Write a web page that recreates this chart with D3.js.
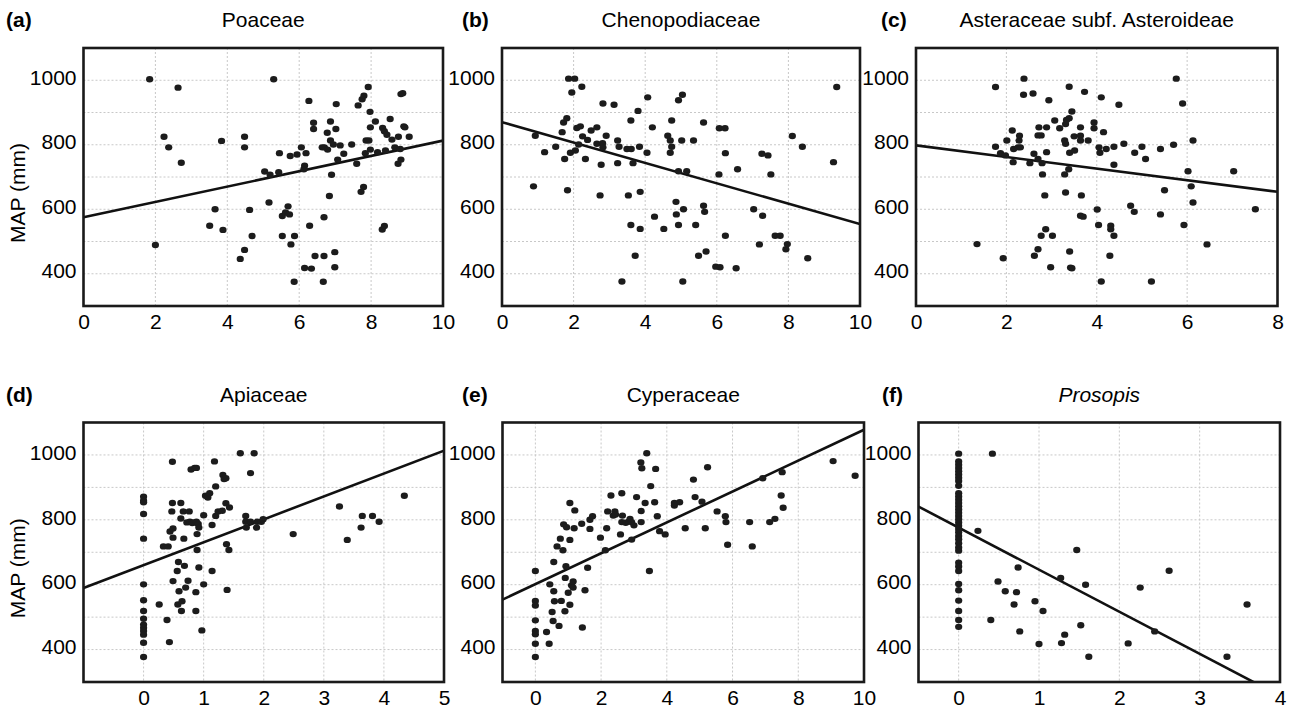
<!DOCTYPE html>
<html>
<head>
<meta charset="utf-8">
<script src="https://cdn.jsdelivr.net/npm/d3@7"></script>
<style>
  body { margin: 0; background: #fff; }
  svg { display: block; font-family: "Liberation Sans", Arial, sans-serif; }
</style>
</head>
<body>
<svg width="1293" height="708"></svg>
<script>
// pollen % vs mean annual precipitation
var poaceae = [[1.84,1003],[2.0,489],[2.24,825],[2.37,792],[2.63,977],[2.72,744],[3.84,812],[3.51,549],[3.66,600],[3.88,536],
  [4.48,825],[4.48,792],[4.62,598],[4.69,517],[4.48,474],[4.36,446],[5.29,1003],[5.04,717],[5.19,707],[5.16,621],
  [5.45,774],[5.43,715],[5.53,579],[5.53,517],[5.62,590],[5.69,609],[5.73,584],[5.77,491],[5.75,765],[5.94,770],
  [5.87,517],[5.86,375],[6.06,792],[6.15,735],[6.13,724],[6.19,774],[6.27,936],[6.29,549],[6.15,418],[6.34,416],
  [6.40,868],[6.40,849],[6.44,455],[6.64,792],[6.70,792],[6.79,785],[6.78,837],[6.87,872],[6.87,813],[6.95,801],
  [6.84,641],[6.90,707],[6.69,575],[6.69,455],[6.67,375],[7.02,849],[7.03,926],[7.07,754],[7.14,798],[7.24,772],
  [6.99,467],[6.99,420],[7.46,801],[7.60,741],[7.64,922],[7.75,941],[7.80,952],[7.92,979],[7.97,902],[7.98,854],
  [7.86,813],[7.94,813],[7.84,774],[7.98,785],[7.72,654],[7.79,669],[8.12,872],[8.18,777],[8.32,852],[8.37,842],
  [8.44,831],[8.40,782],[8.31,537],[8.37,548],[8.53,880],[8.58,816],[8.66,792],[8.76,825],[8.75,741],[8.83,754],
  [8.81,787],[8.83,957],[8.88,960],[8.91,857],[8.94,854],[9.06,825]];

var chenopodiaceae = [[0.88,671],[0.93,828],[1.19,777],[1.50,794],[1.68,839],[1.72,869],[1.81,882],[1.75,756],[1.83,659],[1.86,1005],
  [2.03,1005],[1.95,962],[2.23,980],[1.91,775],[2.05,782],[2.09,852],[2.19,857],[2.14,801],[2.25,826],[2.39,815],
  [2.33,756],[2.49,844],[2.65,854],[2.65,803],[2.81,805],[2.82,792],[2.82,928],[2.77,738],[2.74,643],[2.91,828],
  [3.13,924],[3.23,813],[3.23,743],[3.27,794],[3.35,376],[3.49,787],[3.61,787],[3.60,875],[3.66,743],[3.80,905],
  [3.84,794],[3.53,643],[3.86,654],[3.60,551],[3.86,539],[3.72,456],[4.07,947],[4.05,775],[4.20,854],[4.26,577],
  [4.52,539],[4.63,828],[4.70,813],[4.74,875],[4.74,794],[4.70,775],[4.86,623],[4.87,584],[4.93,938],[5.04,955],
  [5.02,813],[4.93,718],[5.16,718],[5.07,600],[4.93,551],[5.05,376],[5.35,813],[5.41,551],[5.49,456],[5.63,869],
  [5.63,611],[5.66,592],[5.70,469],[5.97,422],[6.09,420],[6.07,851],[6.23,851],[6.06,708],[6.24,774],[6.24,518],
  [6.54,417],[6.58,724],[7.03,600],[7.19,491],[7.26,772],[7.28,580],[7.43,767],[7.51,708],[7.63,518],[7.77,518],
  [7.93,476],[7.97,492],[8.11,827],[8.39,794],[8.54,448],[9.26,746],[9.35,979]];

var asteroideae = [[1.35,492],[1.76,979],[1.76,794],[1.87,774],[1.93,448],[1.98,767],[2.01,813],[2.13,844],[2.16,787],[2.15,746],
  [2.28,813],[2.29,828],[2.26,792],[2.31,792],[2.39,1005],[2.38,955],[2.52,743],[2.59,959],[2.61,772],[2.70,756],
  [2.72,854],[2.70,829],[2.77,829],[2.79,743],[2.80,708],[2.85,643],[2.87,538],[2.77,518],[2.70,476],[2.62,456],
  [2.89,777],[2.89,854],[2.94,938],[2.98,420],[3.02,518],[3.07,875],[3.18,851],[3.29,813],[3.31,803],[3.29,708],
  [3.31,652],[3.31,864],[3.33,877],[3.39,882],[3.39,980],[3.38,724],[3.40,775],[3.40,469],[3.42,419],[3.45,417],
  [3.45,903],[3.50,826],[3.51,782],[3.64,854],[3.64,828],[3.64,813],[3.66,643],[3.64,580],[3.70,577],[3.73,964],
  [3.81,813],[3.94,869],[3.94,851],[4.01,599],[4.04,551],[4.05,792],[4.07,775],[4.10,947],[4.10,376],[4.15,839],
  [4.21,787],[4.29,456],[4.31,549],[4.31,538],[4.38,518],[4.38,794],[4.38,738],[4.49,924],[4.60,803],[4.75,611],
  [4.83,592],[4.84,775],[5.00,794],[5.08,756],[5.21,376],[5.41,787],[5.41,584],[5.50,659],[5.70,800],[5.76,1005],
  [5.90,928],[5.93,551],[6.02,718],[6.09,671],[6.13,813],[6.13,621],[6.44,491],[7.03,718],[7.51,600]];

var apiaceae = [[0,871],[0,859],[0,854],[0,818],[0,742],[0,601],[0,552],[0,519],[0,495],[0,477],[0,467],[0,457],[0,446],[0,421],[0,377],
  [0.26,539],[0.33,718],[0.41,718],[0.39,491],[0.43,423],[0.44,764],[0.48,979],[0.48,852],[0.47,826],[0.49,773],
  [0.49,745],[0.49,611],[0.56,642],[0.57,539],[0.58,670],[0.59,580],[0.62,852],[0.62,804],[0.63,519],[0.64,549],
  [0.66,826],[0.67,742],[0.68,658],[0.70,591],[0.72,792],[0.74,612],[0.76,826],[0.77,794],[0.79,955],[0.81,790],
  [0.84,792],[0.85,960],[0.87,577],[0.88,960],[0.87,519],[0.88,794],[0.89,756],[0.91,787],[0.92,776],[0.89,707],
  [0.92,653],[0.97,459],[1.00,814],[1.00,601],[1.03,874],[1.07,869],[1.10,882],[1.14,784],[1.14,642],[1.18,980],
  [1.20,903],[1.20,812],[1.24,826],[1.31,828],[1.32,938],[1.34,926],[1.37,928],[1.37,851],[1.38,725],[1.39,584],
  [1.42,707],[1.43,838],[1.61,1005],[1.70,812],[1.70,794],[1.71,776],[1.78,944],[1.78,794],[1.84,1005],[1.88,776],
  [1.89,794],[1.96,794],[1.99,802],[2.49,756],[3.26,841],[3.39,738],[3.62,776],[3.64,812],[3.81,812],[3.92,794],[4.34,874]];

var cyperaceae = [[0,642],[0,550],[0,536],[0,490],[0,457],[0,447],[0,418],[0,377],
  [0.34,454],[0.42,418],[0.44,601],[0.51,516],[0.54,488],[0.56,580],[0.58,549],[0.56,670],[0.66,718],[0.72,473],
  [0.76,742],[0.79,550],[0.84,706],[0.86,786],[0.90,518],[0.91,621],[0.95,777],[0.93,657],[1.00,575],[1.05,852],
  [1.05,738],[1.05,538],[1.10,598],[1.15,610],[1.15,591],[1.18,774],[1.20,829],[1.41,788],[1.43,468],[1.51,583],
  [1.59,652],[1.66,772],[1.66,800],[1.74,811],[1.98,745],[2.13,706],[2.17,774],[2.20,826],[2.30,875],[2.37,813],
  [2.42,826],[2.44,816],[2.59,755],[2.63,882],[2.65,813],[2.63,793],[2.75,791],[2.85,795],[2.88,803],[2.93,739],
  [2.93,793],[3.00,783],[3.08,870],[3.21,977],[3.22,827],[3.22,793],[3.24,959],[3.34,852],[3.39,1005],[3.47,642],
  [3.51,904],[3.66,957],[3.63,854],[3.71,811],[3.78,765],[3.95,755],[4.23,844],[4.23,852],[4.39,854],[4.56,774],
  [4.81,924],[4.86,870],[5.07,856],[5.17,774],[5.24,962],[5.53,826],[5.78,811],[5.80,793],[5.85,723],[6.52,793],
  [6.60,718],[6.92,928],[7.13,793],[7.29,803],[7.48,875],[7.51,947],[7.54,837],[9.06,981],[9.73,936]];

var prosopis = [[0,1004],[0,980],[0,970],[0,960],[0,950],[0,940],[0,930],[0,920],[0,905],[0,882],[0,872],[0,862],
  [0,852],[0,842],[0,832],[0,822],[0,812],[0,802],[0,792],[0,782],[0,772],[0,762],[0,750],[0,740],[0,728],[0,715],
  [0,705],[0,668],[0,656],[0,642],[0,602],[0,583],[0,551],[0,519],[0,491],[0,470],
  [0.42,1004],[0.24,766],[0.74,653],[0.49,610],[0.58,580],[0.72,577],[0.69,539],[0.40,491],[0.76,456],[0.95,549],
  [1.05,519],[1.00,417],[1.27,621],[1.28,420],[1.32,446],[1.47,707],[1.52,475],[1.58,600],[1.62,378],[2.11,419],
  [2.26,591],[2.44,456],[2.62,643],[3.34,378],[3.59,539]];

// regression lines: [intercept, slope]
var poaceaeFit = [575, 23.8];
var chenoFit = [870, -31.6];
var asterFit = [798, -18];
var apiaceaeFit = [660.5, 70.5];
var cyperFit = [601.6, 47.6];
var prosopisFit = [776, -129.7];

var yTickLabels = [400, 600, 800, 1000];
var yGrid = [400, 500, 600, 700, 800, 900, 1000];

var panels = [
  {tag: "(a)", title: "Poaceae", pts: poaceae, fit: poaceaeFit, xd: [0, 10], xt: [0, 2, 4, 6, 8, 10], box: [83.5, 48, 443, 306], tagX: 6, ylab: true},
  {tag: "(b)", title: "Chenopodiaceae", pts: chenopodiaceae, fit: chenoFit, xd: [0, 10], xt: [0, 2, 4, 6, 8, 10], box: [502, 48, 860, 306], tagX: 462},
  {tag: "(c)", title: "Asteraceae subf. Asteroideae", pts: asteroideae, fit: asterFit, xd: [0, 8], xt: [0, 2, 4, 6, 8], box: [916, 48, 1277.5, 306], tagX: 881},
  {tag: "(d)", title: "Apiaceae", pts: apiaceae, fit: apiaceaeFit, xd: [-1, 5], xt: [0, 1, 2, 3, 4, 5], box: [83.5, 422.5, 444, 682], tagX: 6, ylab: true},
  {tag: "(e)", title: "Cyperaceae", pts: cyperaceae, fit: cyperFit, xd: [-1, 10], xt: [0, 2, 4, 6, 8, 10], box: [502.5, 422.5, 864, 682], tagX: 462},
  {tag: "(f)", title: "Prosopis", pts: prosopis, fit: prosopisFit, xd: [-0.5, 4], xt: [0, 1, 2, 3, 4], box: [918.5, 422.5, 1280, 682], tagX: 882, italic: true}
];

var svg = d3.select("svg");
var fs = 21;

panels.forEach(function(p, i) {
  var x0 = p.box[0], y0 = p.box[1], x1 = p.box[2], y1 = p.box[3];
  var x = d3.scaleLinear().domain(p.xd).range([x0, x1]);
  var y = d3.scaleLinear().domain([300, 1100]).range([y1, y0]);
  var g = svg.append("g");

  g.append("clipPath").attr("id", "clip" + i)
    .append("rect").attr("x", x0).attr("y", y0).attr("width", x1 - x0).attr("height", y1 - y0);

  // grid
  g.append("g").selectAll("line")
    .data(p.xt.filter(function(d) { return d > p.xd[0] && d < p.xd[1]; }))
    .enter().append("line")
      .attr("x1", x).attr("x2", x)
      .attr("y1", y0).attr("y2", y1)
      .attr("stroke", "#c8c8c8").attr("stroke-width", 1).attr("stroke-dasharray", "2,2");
  g.append("g").selectAll("line")
    .data(yGrid)
    .enter().append("line")
      .attr("y1", y).attr("y2", y)
      .attr("x1", x0).attr("x2", x1)
      .attr("stroke", "#c8c8c8").attr("stroke-width", 1).attr("stroke-dasharray", "2,2");

  // axes, labels only
  var ax = g.append("g").attr("transform", "translate(0," + y1 + ")")
    .call(d3.axisBottom(x).tickValues(p.xt).tickFormat(d3.format("d")).tickSize(0).tickPadding(0));
  ax.select(".domain").remove();
  ax.selectAll("text").attr("font-size", fs).attr("font-family", "Liberation Sans, Arial, sans-serif")
    .attr("fill", "#000").attr("dy", null).attr("y", 23);

  var ay = g.append("g").attr("transform", "translate(" + x0 + ",0)")
    .call(d3.axisLeft(y).tickValues(yTickLabels).tickFormat(d3.format("d")).tickSize(0).tickPadding(7));
  ay.select(".domain").remove();
  ay.selectAll("text").attr("font-size", fs).attr("font-family", "Liberation Sans, Arial, sans-serif")
    .attr("fill", "#000").attr("dy", "0.2em");

  // fit line
  g.append("line")
    .attr("clip-path", "url(#clip" + i + ")")
    .attr("x1", x(p.xd[0])).attr("y1", y(p.fit[0] + p.fit[1] * p.xd[0]))
    .attr("x2", x(p.xd[1])).attr("y2", y(p.fit[0] + p.fit[1] * p.xd[1]))
    .attr("stroke", "#111").attr("stroke-width", 2.6);

  // points
  g.append("g").selectAll("ellipse")
    .data(p.pts)
    .enter().append("ellipse")
      .attr("cx", function(d) { return x(d[0]); })
      .attr("cy", function(d) { return y(d[1]); })
      .attr("rx", 3.6).attr("ry", 3.2)
      .attr("fill", "#1c1c1c");

  // frame
  g.append("rect")
    .attr("x", x0).attr("y", y0).attr("width", x1 - x0).attr("height", y1 - y0)
    .attr("fill", "none").attr("stroke", "#1a1a1a").attr("stroke-width", 2.6);

  // titles
  g.append("text")
    .attr("x", p.tagX).attr("y", y0 - 21)
    .attr("font-size", fs).attr("font-weight", "bold")
    .text(p.tag);
  g.append("text")
    .attr("x", (x0 + x1) / 2).attr("y", y0 - 21)
    .attr("text-anchor", "middle")
    .attr("font-size", fs)
    .attr("font-style", p.italic ? "italic" : null)
    .text(p.title);

  if (p.ylab) {
    g.append("text")
      .attr("transform", "translate(25," + ((y0 + y1) / 2 + 16) + ") rotate(-90)")
      .attr("text-anchor", "middle")
      .attr("font-size", fs)
      .text("MAP (mm)");
  }
});
</script>
</body>
</html>
